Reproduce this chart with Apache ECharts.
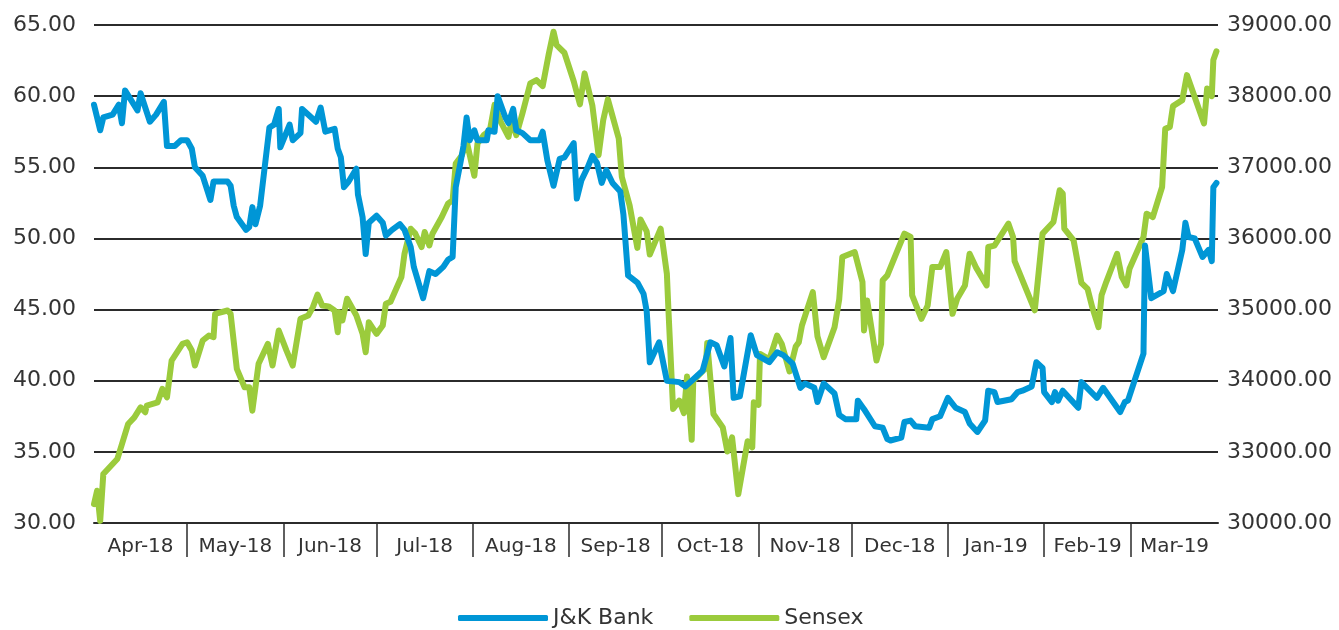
<!DOCTYPE html>
<html>
<head>
<meta charset="utf-8">
<script src="https://cdn.jsdelivr.net/npm/echarts@6/dist/echarts.min.js"></script>
<style>
  html, body { margin: 0; padding: 0; background: #fff; }
  #chart { width: 1339px; height: 630px; }
</style>
</head>
<body>
<div id="chart"></div>
<script>
// x values are days counted from 1 Apr 2018
var monthStarts = [0, 30, 61, 91, 122, 153, 183, 214, 244, 275, 306, 334];
var axisEnd = 362;
var monthLabels = ['Apr-18', 'May-18', 'Jun-18', 'Jul-18', 'Aug-18', 'Sep-18',
  'Oct-18', 'Nov-18', 'Dec-18', 'Jan-19', 'Feb-19', 'Mar-19'];
var leftTicks = [30, 35, 40, 45, 50, 55, 60, 65];
var rightTickLabels = ['30000.00', '33000.00', '34000.00', '35000.00',
  '36000.00', '37000.00', '38000.00', '39000.00'];

var jkDays = [0, 2, 3, 6, 8, 9, 10, 12, 14, 15, 18, 20, 22.5, 23.5, 26, 28, 30, 31.5, 32.5, 35,
  37.5, 38.5, 43, 44, 45, 46, 49, 50, 51, 52, 53.5, 56.5, 58, 59.5, 60, 63, 64, 66.5, 67, 71.5,
  73, 74.5, 77.5, 78.5, 79.5, 80.5, 82, 84.5, 85, 86.5, 87.5, 88.5, 91, 93, 94, 96, 98.5, 100, 102, 103,
  106, 108, 110, 112.5, 114, 115.5, 116.5, 118, 119, 120, 121, 122.5, 123.5, 126.5, 127, 129, 130, 132.5, 133.5, 135,
  136, 138, 140.5, 143.5, 144.5, 146, 148, 150, 151.5, 154.5, 155.5, 157, 159, 160.5, 162, 163.5, 165, 167, 169.5, 170.5,
  172, 175, 177, 178, 179, 182, 184.5, 188.5, 190.5, 192.5, 196, 198.5, 200.5, 203, 205, 206, 208, 211.5, 213.5, 217.5,
  220, 222, 225, 227.5, 229, 232, 233, 235, 238.5, 240, 242, 245.5, 246, 248, 251.5, 254, 255.5, 256.5, 260, 261,
  263, 264.5, 269, 270, 272.5, 275, 277.5, 280.5, 282, 284.5, 287, 288, 290, 291, 295.5, 297.5, 299, 302, 303.5, 305.5,
  306, 308.5, 309.5, 310.5, 312, 317, 318, 323, 325, 330.5, 332, 333, 338, 338.5, 340.5, 344.5, 345.5, 347.5, 350.5, 351.5,
  352.5, 354.5, 357, 359, 360, 360.5, 361.5];
var jkValues = [59.4, 57.6, 58.5, 58.7, 59.4, 58.1, 60.4, 59.7, 59.0, 60.2, 58.2, 58.7, 59.6, 56.5, 56.5, 56.9, 56.9, 56.3, 55.0, 54.4,
  52.7, 54.0, 54.0, 53.7, 52.3, 51.5, 50.6, 50.8, 52.2, 51.0, 52.3, 57.8, 58.0, 59.1, 56.4, 58.0, 56.9, 57.4, 59.1, 58.2,
  59.2, 57.5, 57.7, 56.3, 55.7, 53.6, 54.0, 54.9, 53.1, 51.5, 48.9, 51.1, 51.6, 51.1, 50.2, 50.6, 51.0, 50.6, 49.4, 48.0,
  45.8, 47.7, 47.5, 48.0, 48.5, 48.7, 53.6, 55.3, 56.5, 58.5, 56.9, 57.6, 56.9, 56.9, 57.6, 57.5, 60.0, 58.5, 58.1, 59.1,
  57.6, 57.4, 56.9, 56.9, 57.5, 55.5, 53.7, 55.6, 55.7, 56.7, 52.8, 54.1, 55.0, 55.8, 55.3, 53.9, 54.8, 53.9, 53.3, 51.7,
  47.4, 46.9, 46.1, 44.9, 41.3, 42.7, 40.0, 39.9, 39.6, 40.0, 40.7, 42.7, 42.5, 41.0, 43.0, 38.8, 38.9, 43.2, 41.8, 41.3,
  42.0, 41.8, 41.2, 39.5, 39.8, 39.5, 38.5, 39.8, 39.1, 37.6, 37.3, 37.3, 38.6, 38.0, 36.8, 36.7, 35.9, 35.8, 36.0, 37.1,
  37.2, 36.8, 36.7, 37.3, 37.5, 38.8, 38.1, 37.8, 37.0, 36.4, 37.2, 39.3, 39.2, 38.5, 38.7, 39.2, 39.3, 39.6, 41.3, 40.9,
  39.2, 38.5, 39.2, 38.6, 39.3, 38.1, 39.9, 38.8, 39.5, 37.8, 38.5, 38.6, 41.9, 49.5, 45.8, 46.3, 47.5, 46.3, 49.2, 51.1,
  50.1, 50.0, 48.7, 49.2, 48.4, 53.6, 53.9];

var sensexDays = [0, 1, 2, 3, 4.5, 7.5, 9, 11, 13, 15, 16.5, 17, 20.5, 22, 23.5, 25, 28.5, 30, 31.5, 32.5,
  35, 37, 38.5, 39, 43, 44, 46, 48.5, 50, 51, 53, 56, 57.5, 59.5, 62, 64, 66.5, 69, 70.5, 72,
  73.5, 75.5, 77.5, 78.5, 79, 80, 81.5, 84.5, 86.5, 87.5, 88.5, 91, 93, 94, 95.5, 99, 100, 102, 103.5, 105.5,
  106.5, 108, 109, 112, 114, 115.5, 116.5, 118.5, 120, 122.5, 123.5, 125.5, 127.5, 129, 131, 133.5, 134.5, 136, 138, 140.5,
  142.5, 144.5, 146.5, 148, 149, 151.5, 154.5, 156.5, 158, 160.5, 161.5, 162.5, 164, 165.5, 169, 170, 172.5, 175, 176, 178,
  179, 182.5, 184.5, 185, 186.5, 188.5, 190, 191, 192.5, 193, 197, 197.5, 199.5, 202.5, 204, 205.5, 207.5, 210.5, 212, 212.5,
  214, 214.5, 217.5, 220, 221.5, 224, 226, 227, 228, 231.5, 233, 235, 238.5, 240, 241, 245, 247.5, 248, 249, 252,
  253.5, 254, 255.5, 259, 261, 263, 263.5, 266.5, 268.5, 270, 272.5, 274.5, 276.5, 278, 280.5, 282, 284, 287.5, 288, 290,
  294.5, 296, 296.5, 303, 305.5, 309, 311, 312, 312.5, 315.5, 318, 320, 321.5, 323.5, 324.5, 326, 329.5, 331, 332.5, 333.5,
  338, 339, 341, 344, 345, 346.5, 347.5, 350.5, 352, 352.5, 357.5, 358.5, 360, 360.5, 361.5];
var sensexValues = [32265, 32453, 32030, 32688, 32758, 32899, 33110, 33392, 33485, 33626, 33556, 33650, 33696, 33885, 33767, 34283, 34518, 34541, 34424, 34213,
  34565, 34635, 34611, 34940, 34987, 34940, 34166, 33907, 33907, 33579, 34237, 34518, 34213, 34706, 34424, 34213, 34870, 34917, 35034, 35210,
  35058, 35045, 34987, 34682, 34964, 34846, 35152, 34917, 34659, 34400, 34822, 34659, 34776, 35082, 35110, 35457, 35785, 36137, 36067, 35879,
  36090, 35902, 36067, 36301, 36489, 36536, 37053, 37170, 37370, 36880, 37334, 37451, 37520, 37880, 37639, 37428, 37662, 37451, 37760, 38178,
  38225, 38140, 38601, 38906, 38718, 38610, 38210, 37885, 38320, 37870, 37522, 37170, 37662, 37955, 37405, 36864, 36465, 35867, 36266, 36100,
  35773, 36137, 35504, 35000, 33603, 33720, 33545, 34060, 33170, 34002, 34178, 34530, 33532, 33344, 33004, 33203, 32406, 33150, 33062, 33696,
  33660, 34377, 34300, 34635, 34518, 34130, 34480, 34541, 34776, 35245, 34623, 34330, 34752, 35140, 35738, 35809, 35386, 34706, 35128, 34283,
  34518, 35410, 35480, 35856, 36067, 36020, 35200, 34870, 35058, 35600, 35597, 35809, 34940, 35152, 35339, 35785, 35597, 35339, 35879, 35900,
  36208, 36020, 35680, 34990, 36067, 36231, 36677, 36630, 36137, 35973, 35375, 35290, 35034, 34752, 35200, 35386, 35785, 35460, 35339, 35574,
  36020, 36348, 36301, 36723, 37540, 37568, 37860, 37944, 38296, 38310, 37616, 38108, 38000, 38507, 38630];

function pairs(xs, ys) {
  return xs.map(function (x, i) { return [x, ys[i]]; });
}

var monthMids = monthStarts.map(function (s, i) {
  var next = i + 1 < monthStarts.length ? monthStarts[i + 1] : axisEnd;
  return (s + next) / 2;
});

var textColor = '#333333';
var font = 'DejaVu Sans';

var chart = echarts.init(document.getElementById('chart'));
chart.setOption({
  animation: false,
  color: ['#0096d6', '#9bcb3c'],
  grid: { left: 94, right: 121, top: 25, bottom: 107 },
  legend: {
    top: 602,
    left: 453,
    icon: 'roundRect',
    itemWidth: 90,
    itemHeight: 6,
    itemGap: 36,
    textStyle: { color: textColor, fontSize: 22, fontFamily: font },
    data: ['J&K Bank', 'Sensex']
  },
  xAxis: {
    type: 'value',
    min: 0,
    max: axisEnd,
    splitLine: { show: false },
    axisLine: { show: true, lineStyle: { color: '#2b2b2b', width: 2 } },
    axisTick: {
      show: true,
      customValues: monthStarts.slice(1),
      length: 34,
      lineStyle: { color: '#2b2b2b', width: 1.5 }
    },
    axisLabel: {
      customValues: monthMids,
      margin: 14,
      color: textColor,
      fontSize: 20,
      fontFamily: font,
      formatter: function (v) {
        var i = monthMids.indexOf(v);
        return i >= 0 ? monthLabels[i] : '';
      }
    }
  },
  yAxis: [
    {
      type: 'value',
      min: leftTicks[0],
      max: leftTicks[leftTicks.length - 1],
      interval: 5,
      axisLine: { show: false },
      axisTick: { show: false },
      splitLine: { lineStyle: { color: '#2b2b2b', width: 2 } },
      axisLabel: {
        margin: 18,
        color: textColor,
        fontSize: 22,
        fontFamily: font,
        formatter: function (v) { return v.toFixed(2); }
      }
    },
    {
      type: 'value',
      min: 32000,
      max: 39000,
      interval: 1000,
      axisLine: { show: false },
      axisTick: { show: false },
      splitLine: { show: false },
      axisLabel: {
        margin: 9,
        color: textColor,
        fontSize: 22,
        fontFamily: font,
        formatter: function (v) {
          return rightTickLabels[Math.round((v - 32000) / 1000)];
        }
      }
    }
  ],
  series: [
    {
      name: 'J&K Bank',
      type: 'line',
      yAxisIndex: 0,
      showSymbol: false,
      symbol: 'none',
      lineStyle: { width: 6, join: 'round', cap: 'round' },
      data: pairs(jkDays, jkValues),
      z: 3
    },
    {
      name: 'Sensex',
      type: 'line',
      yAxisIndex: 1,
      showSymbol: false,
      symbol: 'none',
      lineStyle: { width: 6, join: 'round', cap: 'round' },
      data: pairs(sensexDays, sensexValues),
      z: 2
    }
  ]
});
</script>
</body>
</html>
